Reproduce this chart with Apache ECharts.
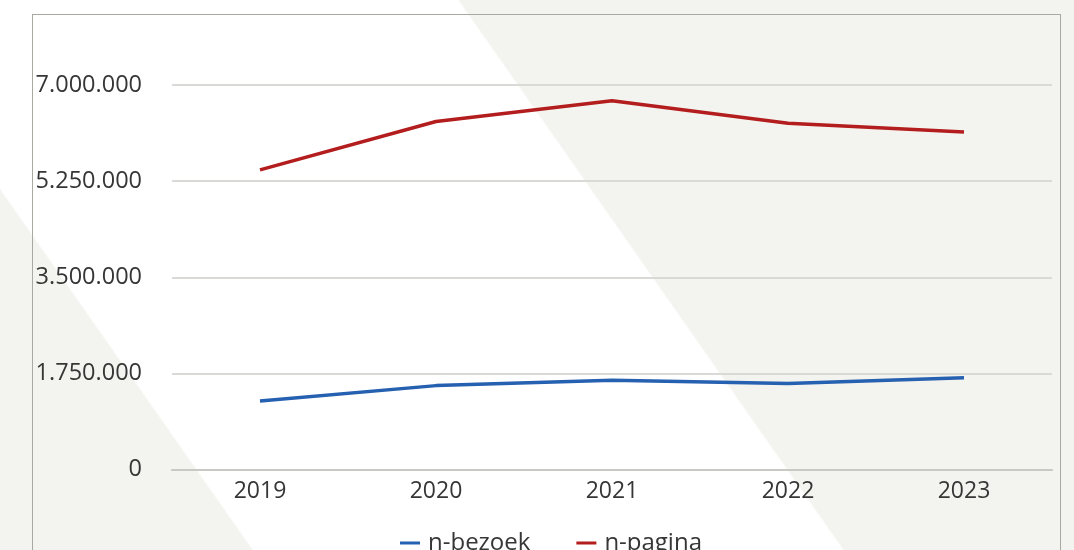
<!DOCTYPE html>
<html>
<head>
<meta charset="utf-8">
<script src="https://cdn.jsdelivr.net/npm/echarts@6/dist/echarts.min.js"></script>
<style>
  html, body { margin: 0; padding: 0; width: 1074px; height: 550px; overflow: hidden; }
  body {
    background: linear-gradient(55deg, #f3f3ef 0px, #f3f3ef 206px, #ffffff 208px, #ffffff 690px, #f3f3ef 692px, #f3f3ef 100%);
  }
  #frame { position: absolute; left: 32px; top: 14px; width: 1029px; height: 600px; border: 1px solid #a9a9a4; box-sizing: border-box; }
  #chart { position: absolute; left: 0; top: 0; width: 1074px; height: 550px; }
</style>
</head>
<body>
<div id="frame"></div>
<div id="chart"></div>
<script>
const categories = ['2019', '2020', '2021', '2022', '2023'];
const seriesNames = ['n-bezoek', 'n-pagina'];
const bezoek = [1245000, 1527000, 1625000, 1565000, 1672000];
const pagina = [5455000, 6336000, 6712000, 6303000, 6145000];
const yTicks = [0, 1750000, 3500000, 5250000, 7000000];

function fmt(v) {
  return String(Math.round(v)).replace(/\B(?=(\d{3})+(?!\d))/g, '.');
}

const chart = echarts.init(document.getElementById('chart'), null, { renderer: 'canvas' });
const textColor = '#363636';
const font = '"Open Sans", sans-serif';

chart.setOption({
  backgroundColor: 'transparent',
  animation: false,
  grid: { left: 172, right: 22, top: 85, bottom: 80.5, containLabel: false },
  legend: {
    data: seriesNames,
    left: 395,
    top: 526,
    itemWidth: 20,
    itemHeight: 3,
    itemGap: 46,
    icon: 'rect',
    textStyle: { color: textColor, fontSize: 24, fontFamily: font, padding: [0, 0, 0, 3] }
  },
  xAxis: {
    type: 'category',
    data: categories,
    boundaryGap: true,
    axisLine: { show: true, lineStyle: { color: '#c8c8c4', width: 2 } },
    axisTick: { show: false },
    axisLabel: { color: textColor, fontSize: 23, fontFamily: font, margin: 10 }
  },
  yAxis: {
    type: 'value',
    min: yTicks[0],
    max: yTicks[yTicks.length - 1],
    interval: yTicks[1] - yTicks[0],
    axisLine: { show: false },
    axisTick: { show: false },
    splitLine: { lineStyle: { color: '#d9d9d6', width: 2 } },
    axisLabel: { color: textColor, fontSize: 23.5, fontFamily: font, margin: 30, formatter: fmt }
  },
  series: [
    {
      name: seriesNames[0], type: 'line', data: bezoek, showSymbol: false, symbol: 'none',
      lineStyle: { color: '#2660b0', width: 3.5 }, itemStyle: { color: '#2660b0' }
    },
    {
      name: seriesNames[1], type: 'line', data: pagina, showSymbol: false, symbol: 'none',
      lineStyle: { color: '#b31d1d', width: 3.5 }, itemStyle: { color: '#b31d1d' }
    }
  ]
});
</script>
</body>
</html>
